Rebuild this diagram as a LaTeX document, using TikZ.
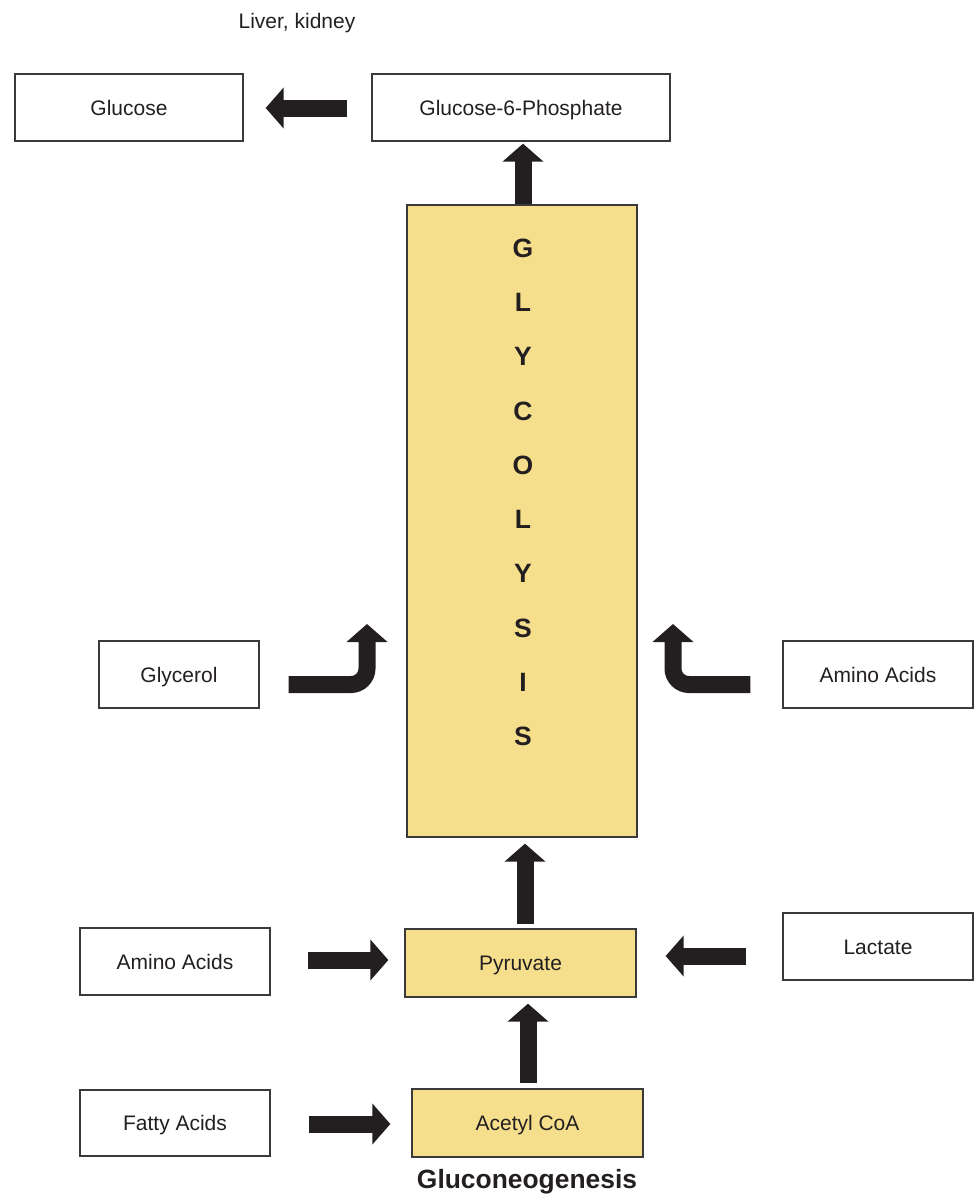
\documentclass[tikz,border=0pt]{standalone}
\usepackage{fontspec}
\setmainfont{Liberation Sans}
\usetikzlibrary{arrows.meta}
\definecolor{ink}{HTML}{231F20}
\definecolor{boxline}{HTML}{3A3A3A}
\definecolor{pathway}{HTML}{F5DF8D}
\tikzset{
  box/.style={draw=boxline, line width=1.3pt, fill=white, inner sep=0pt,
    text height=15pt, text depth=0pt,
    text=ink, font=\fontsize{21}{25}\selectfont},
  ybox/.style={box, fill=pathway},
  blk/.style={draw=ink, line width=17pt,
    -{Triangle[width=40pt,length=18pt]}},
  letter/.style={text=ink, font=\fontsize{26.5}{30}\selectfont\bfseries, inner sep=0pt},
}
\begin{document}
\begin{tikzpicture}[x=1pt,y=-1pt]
\useasboundingbox (0,0) rectangle (974,1195);

% caption at the top
\node[text=ink, font=\fontsize{21}{25}\selectfont, inner sep=0pt, anchor=base] (site) at (297,28) {Liver, kidney};

% boxes
\node[box, minimum width=228, minimum height=67] (glucose) at (129,107.5) {Glucose};
\node[box, minimum width=298, minimum height=67] (g6p) at (521,107.5) {Glucose-6-Phosphate};
\node[ybox, minimum width=230, minimum height=632] (glyco) at (522,521) {};
\node[box, minimum width=160, minimum height=67] (glycerol) at (179,674.5) {Glycerol};
\node[box, minimum width=190, minimum height=67] (aminoR) at (878,674.5) {Amino Acids};
\node[box, minimum width=190, minimum height=67] (aminoL) at (175,961.5) {Amino Acids};
\node[ybox, minimum width=231, minimum height=68] (pyr) at (520.5,963) {Pyruvate};
\node[box, minimum width=190, minimum height=67] (lactate) at (878,946.5) {Lactate};
\node[box, minimum width=190, minimum height=66] (fatty) at (175,1123) {Fatty Acids};
\node[ybox, minimum width=231, minimum height=68] (acetyl) at (527.5,1123) {Acetyl CoA};

% vertical lettering in the glycolysis column
\foreach \ch [count=\i from 0] in {G,L,Y,C,O,L,Y,S,I,S}
  \node[letter] (l\i) at (523,248+54.3*\i) {\ch};

% title
\node[text=ink, font=\fontsize{26.4}{30}\selectfont\bfseries, inner sep=0pt, anchor=base] (title) at (527,1188.5) {Gluconeogenesis};

% straight block arrows
\draw[blk, shorten <=24pt, shorten >=22pt] ([yshift=-0.5pt]g6p.west) -- ([yshift=-0.5pt]glucose.east);
\draw[blk, shorten >=2pt] ([xshift=1pt]glyco.north) -- ([xshift=1pt]glyco.north |- g6p.south);
\draw[blk, shorten <=4pt, shorten >=6pt] ([xshift=4.5pt]pyr.north) -- ([xshift=4.5pt]pyr.north |- glyco.south);
\draw[blk, shorten <=5pt, shorten >=6pt] ([xshift=0.5pt]acetyl.north) -- ([xshift=0.5pt]acetyl.north |- pyr.south);
\draw[blk, shorten <=37pt, shorten >=16pt] ([yshift=1.5pt]aminoL.east) -- ([yshift=1.5pt]aminoL.east -| pyr.west);
\draw[blk, shorten <=36pt, shorten >=29pt] ([yshift=-9.5pt]lactate.west) -- ([yshift=7pt]pyr.east);
\draw[blk, shorten <=38pt, shorten >=21pt] ([yshift=-1pt]fatty.east) -- ([yshift=-1pt]fatty.east -| acetyl.west);

% bent arrows entering the glycolysis column
\coordinate (glyIn) at (367,624);
\coordinate (amiIn) at (673,624);
\draw[blk, rounded corners=16pt] ([shift={(29,10)}]glycerol.east) -| (glyIn);
\draw[blk, rounded corners=16pt] ([shift={(-32,10)}]aminoR.west) -| (amiIn);
\end{tikzpicture}
\end{document}
